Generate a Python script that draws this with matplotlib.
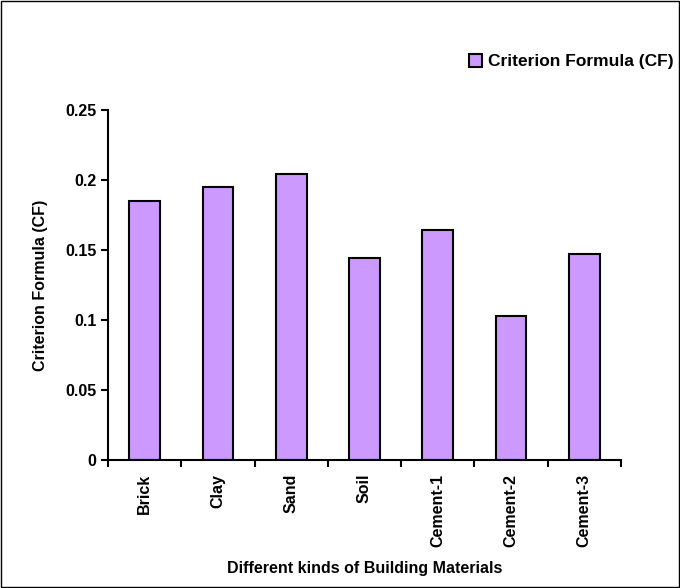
import matplotlib.pyplot as plt
import matplotlib.patches as mpatches
import numpy as np

plt.rcParams['font.family'] = ['Liberation Sans', 'DejaVu Sans']
plt.rcParams['font.weight'] = 'bold'

materials = ['Brick', 'Clay', 'Sand', 'Soil', 'Cement-1', 'Cement-2', 'Cement-3']
cf_values = [0.185, 0.195, 0.204, 0.144, 0.164, 0.103, 0.147]
y_ticks = [0, 0.05, 0.1, 0.15, 0.2, 0.25]
y_labels = ['0', '0.05', '0.1', '0.15', '0.2', '0.25']

fig = plt.figure(figsize=(6.8, 5.88), dpi=100)
ax = fig.add_axes([0.159, 0.218, 0.754, 0.595])

x = np.arange(len(materials))
ax.bar(x, cf_values, width=0.42, color='#cc99ff', edgecolor='black', linewidth=1.5,
       label='Criterion Formula (CF)')

ax.set_xlim(-0.5, len(materials) - 0.5)
ax.set_ylim(0, 0.25)
ax.set_yticks(y_ticks)
ax.set_yticklabels(y_labels, fontsize=11.5, fontweight='bold')

# category labels at centres, tick marks at the boundaries
ax.set_xticks(x)
ax.set_xticklabels(materials, rotation=90, fontsize=11.5, fontweight='bold')
ax.tick_params(axis='x', which='major', length=0, pad=10)
ax.set_xticks(np.arange(-0.5, len(materials)), minor=True)
ax.tick_params(axis='x', which='minor', length=5, width=1.5, direction='out')
ax.tick_params(axis='y', length=5, width=1.5, direction='out')

for s in ['top', 'right']:
    ax.spines[s].set_visible(False)
for s in ['left', 'bottom']:
    ax.spines[s].set_linewidth(1.5)

ax.set_xlabel('Different kinds of Building Materials', fontsize=11.5, fontweight='bold', labelpad=10)
ax.set_ylabel('Criterion Formula (CF)', fontsize=11.5, fontweight='bold', labelpad=12)

ax.legend(loc='center right', bbox_to_anchor=(1.013, 0.895), bbox_transform=fig.transFigure,
          frameon=False, handlelength=0.75, handleheight=0.75, handletextpad=0.3,
          prop={'weight': 'bold', 'size': 12.5})

fig.patches.append(mpatches.Rectangle((0.002, 0.002), 0.996, 0.996, transform=fig.transFigure,
                                      fill=False, edgecolor='black', linewidth=1))

fig.savefig('out.png', dpi=100)
